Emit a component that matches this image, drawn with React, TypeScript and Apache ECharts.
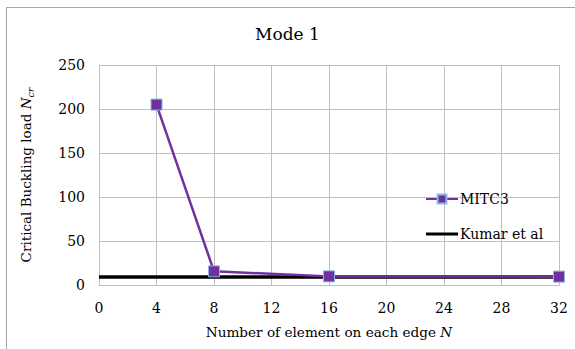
import React, { useEffect, useRef } from "react";
import * as echarts from "echarts";

const xTicks = [0, 4, 8, 12, 16, 20, 24, 28, 32];
const mitc3N = [4, 8, 16, 32];
const mitc3Values = [205, 15.5, 9.8, 9.5];
const kumarN = [0, 32];
const kumarValues = [9.1, 9.1];

const FONT = "DejaVu Serif";

export default function App() {
  const ref = useRef<HTMLDivElement>(null);
  useEffect(() => {
    if (!ref.current) return;
    const chart = echarts.init(ref.current, undefined, { renderer: "svg" });
    chart.setOption({
      animation: false,
      textStyle: { fontFamily: FONT },
      title: {
        text: "Mode 1",
        left: "center",
        top: 20,
        textStyle: { fontFamily: FONT, fontSize: 17, fontWeight: "normal", color: "#000" },
      },
      graphic: [
        { type: "line", shape: { x1: 6.5, y1: 7.5, x2: 600, y2: 7.5 }, style: { stroke: "#a6a6a6", lineWidth: 1 } },
        { type: "line", shape: { x1: 6.5, y1: 7.5, x2: 6.5, y2: 400 }, style: { stroke: "#a6a6a6", lineWidth: 1 } },
      ],
      grid: { left: 99, right: 16, top: 65, bottom: 64 },
      legend: {
        orient: "vertical",
        left: 420,
        top: 187,
        itemWidth: 32,
        itemHeight: 11,
        itemGap: 21,
        formatter: "{a|{name}}",
        textStyle: {
          fontFamily: FONT,
          fontSize: 14,
          color: "#000",
          rich: { a: { fontFamily: FONT, fontSize: 14, color: "#000", padding: [0, 0, 0, -3] } },
        },
        data: [
          { name: "MITC3" },
          { name: "Kumar et al", icon: "path://M0,0 L32,0 L32,3 L0,3 Z" },
        ],
      },
      xAxis: {
        type: "value",
        min: 0,
        max: 32,
        interval: 4,
        name: "{t|Number of element on each edge }{i|N}",
        nameLocation: "middle",
        nameGap: 40,
        nameTextStyle: {
          rich: {
            t: { fontFamily: FONT, fontSize: 13.6, color: "#000" },
            i: { fontFamily: FONT, fontSize: 13.6, fontStyle: "italic", color: "#000" },
          },
        },
        axisLine: { lineStyle: { color: "#bfbfbf" } },
        axisTick: { show: false },
        axisLabel: {
          margin: 16,
          fontFamily: FONT,
          fontSize: 14,
          color: "#000",
          formatter: (v: number) => (xTicks.includes(v) ? String(v) : ""),
        },
        splitLine: { show: true, lineStyle: { color: "#bfbfbf" } },
      },
      yAxis: {
        type: "value",
        min: 0,
        max: 250,
        interval: 50,
        name: "{t|Critical Buckling load }{i|N}{s|cr}",
        nameLocation: "middle",
        nameGap: 64,
        nameTextStyle: {
          rich: {
            t: { fontFamily: FONT, fontSize: 13.5, color: "#000" },
            i: { fontFamily: FONT, fontSize: 13.5, fontStyle: "italic", color: "#000" },
            s: { fontFamily: FONT, fontSize: 9.5, fontStyle: "italic", color: "#000", padding: [8, 0, 0, 0] },
          },
        },
        axisLine: { show: true, lineStyle: { color: "#bfbfbf" } },
        axisTick: { show: false },
        axisLabel: { margin: 14, fontFamily: FONT, fontSize: 14, color: "#000" },
        splitLine: { show: true, lineStyle: { color: "#bfbfbf" } },
      },
      series: [
        {
          name: "Kumar et al",
          type: "line",
          data: kumarN.map((n, i) => [n, kumarValues[i]]),
          symbol: "none",
          lineStyle: { color: "#000", width: 3.5 },
          itemStyle: { color: "#000" },
          z: 2,
        },
        {
          name: "MITC3",
          type: "line",
          data: mitc3N.map((n, i) => [n, mitc3Values[i]]),
          symbol: "rect",
          symbolSize: 11,
          lineStyle: { color: "#7030a0", width: 2.5 },
          itemStyle: { color: "#7030a0", borderColor: "#8eb4e3", borderWidth: 1 },
          z: 3,
        },
      ],
    });
    return () => chart.dispose();
  }, []);
  return (
    <div
      ref={ref}
      style={{ position: "fixed", left: 0, top: 0, width: 575, height: 349, background: "#fff" }}
    />
  );
}
